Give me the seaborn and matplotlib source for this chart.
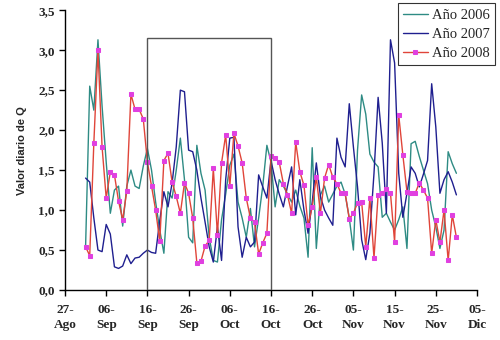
import matplotlib
matplotlib.use("Agg")
import matplotlib.pyplot as plt
import seaborn as sns
import pandas as pd
from matplotlib.patches import Rectangle

tick_days = [0, 10, 20, 30, 40, 50, 60, 70, 80, 90, 100]
tick_labels = ["27-\nAgo", "06-\nSep", "16-\nSep", "26-\nSep", "06-\nOct", "16-\nOct",
               "26-\nOct", "05-\nNov", "15-\nNov", "25-\nNov", "05-\nDic"]
y_ticks = [0.0, 0.5, 1.0, 1.5, 2.0, 2.5, 3.0, 3.5]
y_labels = ["0,0", "0,5", "1,0", "1,5", "2,0", "2,5", "3,0", "3,5"]

days = list(range(5, 96))

v2006 = [0.55, 2.55, 2.25, 3.13, 2.3, 1.6, 0.96, 1.25, 1.3, 0.8,
         1.3, 1.5, 1.3, 1.27, 1.55, 1.77, 1.5, 1.1, 0.75, 0.46,
         1.23, 1.15, 1.5, 1.9, 1.38, 0.66, 0.59, 1.81, 1.46, 1.25,
         0.66, 0.37, 0.35, 0.88, 1.2, 1.56, 1.7, 1.1, 0.9, 0.66,
         1.02, 0.54, 0.9, 1.3, 1.81, 1.6, 1.04, 1.38, 1.3, 1.2,
         1.1, 1.25, 1.05, 0.9, 0.41, 1.78, 0.52, 1.19, 1.3, 1.1,
         1.2, 1.3, 1.35, 1.2, 0.9, 0.5, 1.75, 2.44, 2.2, 1.7,
         1.6, 1.54, 0.91, 0.96, 0.85, 0.75, 0.88, 1.04, 0.52, 1.83,
         1.86, 1.67, 1.5, 1.33, 1.0, 0.79, 0.52, 0.75, 1.73, 1.58,
         1.46]

v2007 = [1.4, 1.35, 0.9, 0.5, 0.48, 0.82, 0.7, 0.29, 0.27, 0.3,
         0.44, 0.33, 0.4, 0.41, 0.46, 0.5, 0.47, 0.46, 0.87, 1.23,
         1.04, 1.34, 1.79, 2.5, 2.48, 1.75, 1.73, 1.5, 1.15, 0.85,
         0.54, 0.35, 0.79, 0.37, 1.38, 1.9, 1.91, 0.79, 0.41, 0.66,
         0.54, 0.6, 1.44, 1.29, 1.15, 1.62, 1.38, 1.2, 1.04, 1.3,
         1.54, 0.94, 1.38, 1.0, 0.71, 1.1, 1.59, 1.17, 1.0, 0.9,
         0.81, 1.9, 1.66, 1.54, 2.33, 1.79, 1.29, 0.63, 0.38, 0.71,
         1.46, 2.41, 1.84, 0.96, 3.13, 2.84, 1.46, 0.91, 1.21, 1.54,
         1.46, 1.29, 1.45, 1.62, 2.58, 2.04, 1.21, 1.38, 1.48, 1.35,
         1.19]

v2008 = [0.54, 0.43, 1.84, 3.0, 1.79, 1.15, 1.48, 1.44, 1.11, 0.88,
         1.24, 2.45, 2.26, 2.26, 2.14, 1.6, 1.3, 1.0, 0.61, 1.62,
         1.71, 1.35, 1.17, 0.96, 1.34, 1.21, 0.9, 0.34, 0.36, 0.55,
         0.62, 1.52, 0.69, 1.59, 1.94, 1.3, 1.96, 1.8, 1.59, 1.15,
         0.9, 0.85, 0.45, 0.59, 0.71, 1.68, 1.65, 1.6, 1.33, 1.19,
         0.96, 1.85, 1.48, 1.31, 0.81, 1.04, 1.41, 0.96, 1.4, 1.57,
         1.41, 1.33, 1.21, 1.21, 0.89, 0.96, 1.09, 1.1, 0.54, 1.15,
         0.4, 1.19, 1.21, 1.26, 1.21, 0.6, 2.19, 1.69, 1.23, 1.21,
         1.21, 1.34, 1.25, 1.15, 0.46, 0.88, 0.6, 1.0, 0.37, 0.94,
         0.66]

box_start, box_end, box_top = 20, 50, 3.15

sns.set_theme(style="white")
plt.rcParams['font.family'] = ['Liberation Serif', 'DejaVu Serif']

df = pd.DataFrame({"day": days, "Año 2006": v2006, "Año 2007": v2007, "Año 2008": v2008})

fig = plt.figure(figsize=(5, 3.4), dpi=100)
ax = fig.add_axes([0.13, 0.147, 0.824, 0.823])

sns.lineplot(data=df, x="day", y="Año 2006", ax=ax, color="#2E8B84", lw=1.0, label="Año 2006")
sns.lineplot(data=df, x="day", y="Año 2007", ax=ax, color="#1F1F8F", lw=1.0, label="Año 2007")
sns.lineplot(data=df, x="day", y="Año 2008", ax=ax, color="#E0453A", lw=1.0, label="Año 2008",
             marker="s", markersize=2.7, markerfacecolor="#E040E0", markeredgecolor="#E040E0")

ax.add_patch(Rectangle((box_start, 0), box_end - box_start, box_top, fill=False,
                       edgecolor="#555555", lw=1.0, zorder=5))

ax.set_xlim(0, 100)
ax.set_ylim(0, 3.5)
ax.set_xticks(tick_days)
ax.set_xticklabels(tick_labels, fontsize=9.5, fontweight="bold", linespacing=1.3)
ax.set_yticks(y_ticks)
ax.set_yticklabels(y_labels, fontsize=9.5, fontweight="bold")
ax.set_xlabel("")
ax.set_ylabel("Valor diario de Q", fontsize=8, fontweight="bold",
              family=["Liberation Sans", "DejaVu Sans"], labelpad=8)

for s in ["top", "right"]:
    ax.spines[s].set_visible(False)
for s in ["left", "bottom"]:
    ax.spines[s].set_color("black")
    ax.spines[s].set_linewidth(1.0)
ax.tick_params(axis="both", direction="out", length=4, width=1, color="black", bottom=True, left=True)
ax.tick_params(axis="x", pad=6)

leg = ax.legend(loc="upper right", bbox_to_anchor=(0.99, 0.99), bbox_transform=fig.transFigure,
                fontsize=10.5, frameon=True, fancybox=False, borderpad=0.35, handlelength=1.7,
                labelspacing=0.4, handletextpad=0.3, borderaxespad=0)
leg.get_frame().set_edgecolor("black")
leg.get_frame().set_linewidth(0.8)

fig.savefig("out.png", dpi=100)
